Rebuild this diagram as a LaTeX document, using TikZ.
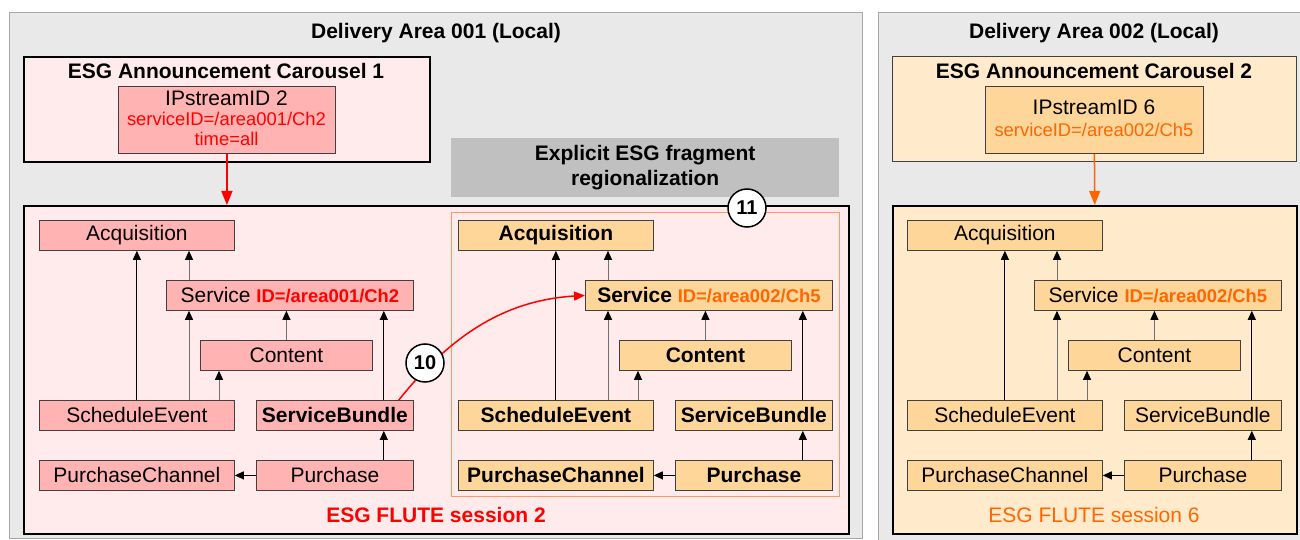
\documentclass[tikz,border=0pt]{standalone}
\usepackage{fontspec}
\setmainfont{Liberation Sans}
\usetikzlibrary{arrows.meta}
\definecolor{areagray}{HTML}{E9E9E9}
\definecolor{areaborder}{HTML}{A6A6A6}
\definecolor{pinklight}{HTML}{FFEBEB}
\definecolor{pinkbox}{HTML}{FFB3B3}
\definecolor{orangelight}{HTML}{FFEACC}
\definecolor{orangebox}{HTML}{FFD699}
\definecolor{orangetext}{HTML}{FF6600}
\definecolor{orangeborder}{HTML}{FF9966}
\definecolor{boxborder}{HTML}{404040}
\definecolor{linegray}{HTML}{707070}
\definecolor{explgray}{HTML}{C0C0C0}
\definecolor{redtext}{HTML}{FF0000}
\newcommand{\fbig}{\fontsize{21}{24}\selectfont}
\newcommand{\fsmall}{\fontsize{18.4}{21}\selectfont}
\tikzset{
  area/.style={draw=areaborder, fill=areagray, line width=1pt, anchor=north west, inner sep=0pt},
  frame/.style={draw=black, line width=1.6pt, anchor=north west, inner sep=0pt},
  treebox/.style={draw=boxborder, line width=0.8pt, anchor=north west, inner sep=0pt, minimum height=30pt, font=\fbig},
  pbox/.style={treebox, fill=pinkbox},
  obox/.style={treebox, fill=orangebox},
  arr/.style={draw=black, line width=1pt, -{Triangle[length=9pt,width=8pt,color=black]}},
  garr/.style={arr, draw=linegray},
  numcircle/.style={circle, draw=black, fill=white, line width=1.5pt, minimum size=38pt, inner sep=0pt, font=\fontsize{20}{20}\selectfont\bfseries},
}
% #1 prefix, #2 x offset, #3 box style, #4 font, #5 SB font, #6 ID colour, #7 ID text
\newcommand{\esgtree}[7]{%
  \node[#3, minimum width=195pt] (#1acq) at ({#2+39},220) {#4Acquisition};
  \node[#3, minimum width=247pt] (#1sv) at ({#2+166},280) {#4Service {\fsmall\bfseries\color{#6}#7}};
  \node[#3, minimum width=172pt] (#1ct) at ({#2+200},340) {#4Content};
  \node[#3, minimum width=195pt] (#1se) at ({#2+39},400) {#4ScheduleEvent};
  \node[#3, minimum width=157pt] (#1sb) at ({#2+256},400) {#5ServiceBundle};
  \node[#3, minimum width=195pt] (#1pc) at ({#2+39},460) {#4PurchaseChannel};
  \node[#3, minimum width=157pt] (#1pu) at ({#2+256},460) {#4Purchase};
  \coordinate (#1a) at ([xshift=23pt]#1sv.north west);
  \coordinate (#1b) at ([xshift=150pt]#1se.north west);
  \coordinate (#1c) at ([xshift=180pt]#1se.north west);
  \coordinate (#1d) at ([xshift=-30pt]#1sb.north east);
  \coordinate (#1e) at ([xshift=-30pt]#1pu.north east);
  \draw[arr] (#1se.north) -- (#1acq.south);
  \draw[garr] (#1a) -- (#1a |- #1acq.south);
  \draw[garr] (#1b) -- (#1b |- #1sv.south);
  \draw[garr] (#1c) -- (#1c |- #1ct.south);
  \draw[garr] (#1ct.north) -- (#1ct.north |- #1sv.south);
  \draw[arr] (#1d) -- (#1d |- #1sv.south);
  \draw[arr] (#1e) -- (#1e |- #1sb.south);
  \draw[arr] (#1pu.west) -- (#1pc.east);
}
\begin{document}
\begin{tikzpicture}[x=1pt, y=-1pt]
\useasboundingbox (0,0) rectangle (1300,540);
\fill[white] (0,0) rectangle (1300,540);
% delivery areas
\node[area, minimum width=853pt, minimum height=526pt] (area1) at (9,12) {};
\node[area, minimum width=424pt, minimum height=530pt] (area2) at (878,12) {};
\node[font=\fbig\bfseries] (t1) at (436,33) {Delivery Area 001 (Local)};
\node[font=\fbig\bfseries] (t2) at (1094,33) {Delivery Area 002 (Local)};
% carousels
\node[frame, fill=pinklight, minimum width=406pt, minimum height=105pt] (car1) at (23,56) {};
\node[font=\fbig\bfseries] (car1t) at (226,71) {ESG Announcement Carousel 1};
\node[frame, draw=boxborder, line width=1pt, fill=orangelight, minimum width=404pt, minimum height=105pt] (car2) at (892,56) {};
\node[font=\fbig\bfseries] (car2t) at (1094,71) {ESG Announcement Carousel 2};
% IP streams
\node[treebox, fill=pinkbox, minimum width=217pt, minimum height=67pt] (ip1) at (118,86) {};
\node[font=\fbig] (ip1a) at (226.5,98) {IPstreamID 2};
\node[font=\fsmall, text=redtext] (ip1b) at (226.5,119) {serviceID=/area001/Ch2};
\node[font=\fsmall, text=redtext] (ip1c) at (226.5,139) {time=all};
\node[treebox, fill=orangebox, minimum width=218pt, minimum height=67pt] (ip2) at (985,86) {};
\node[font=\fbig] (ip2a) at (1094,107) {IPstreamID 6};
\node[font=\fsmall, text=orangetext] (ip2b) at (1094,130) {serviceID=/area002/Ch5};
% explicit label
\node[fill=explgray, anchor=north west, inner sep=0pt, minimum width=388pt, minimum height=59pt, align=center, font=\fontsize{21}{25}\selectfont\bfseries] (expl) at (451,138) {Explicit ESG fragment\\regionalization};
% FLUTE sessions
\node[frame, fill=pinklight, minimum width=825pt, minimum height=328pt] (fl1) at (23,205) {};
\node[frame, fill=orangelight, minimum width=404pt, minimum height=328pt] (fl2) at (892,205) {};
\node[draw=orangeborder, line width=1.2pt, anchor=north west, inner sep=0pt, minimum width=388pt, minimum height=284pt] (reg) at (451,212) {};
\draw[redtext, line width=1.5pt, -{Triangle[length=14pt,width=11pt]}] (ip1.south) -- (ip1.south |- fl1.north);
\draw[orangetext, line width=1.5pt, -{Triangle[length=14pt,width=11pt]}] (ip2.south) -- (fl2.north);
% trees
\esgtree{t1}{0}{pbox}{}{\bfseries}{redtext}{ID=/area001/Ch2}
\esgtree{t2}{419}{obox}{\bfseries}{\bfseries}{orangetext}{ID=/area002/Ch5}
\esgtree{t3}{868}{obox}{}{}{orangetext}{ID=/area002/Ch5}
\node[font=\fbig\bfseries, text=redtext] (fs1) at (436,515) {ESG FLUTE session 2};
\node[font=\fbig, text=orangetext] (fs2) at (1094,515) {ESG FLUTE session 6};
% cross-area link
\draw[redtext, line width=1.5pt, -{Triangle[length=11pt,width=9pt]}] ([xshift=-15pt]t1sb.north east) .. controls (455,330) and (510,300) .. (t2sv.west);
\node[numcircle] (c10) at (425,363) {10};
\node[numcircle] (c11) at (747,208) {11};
\end{tikzpicture}
\end{document}
